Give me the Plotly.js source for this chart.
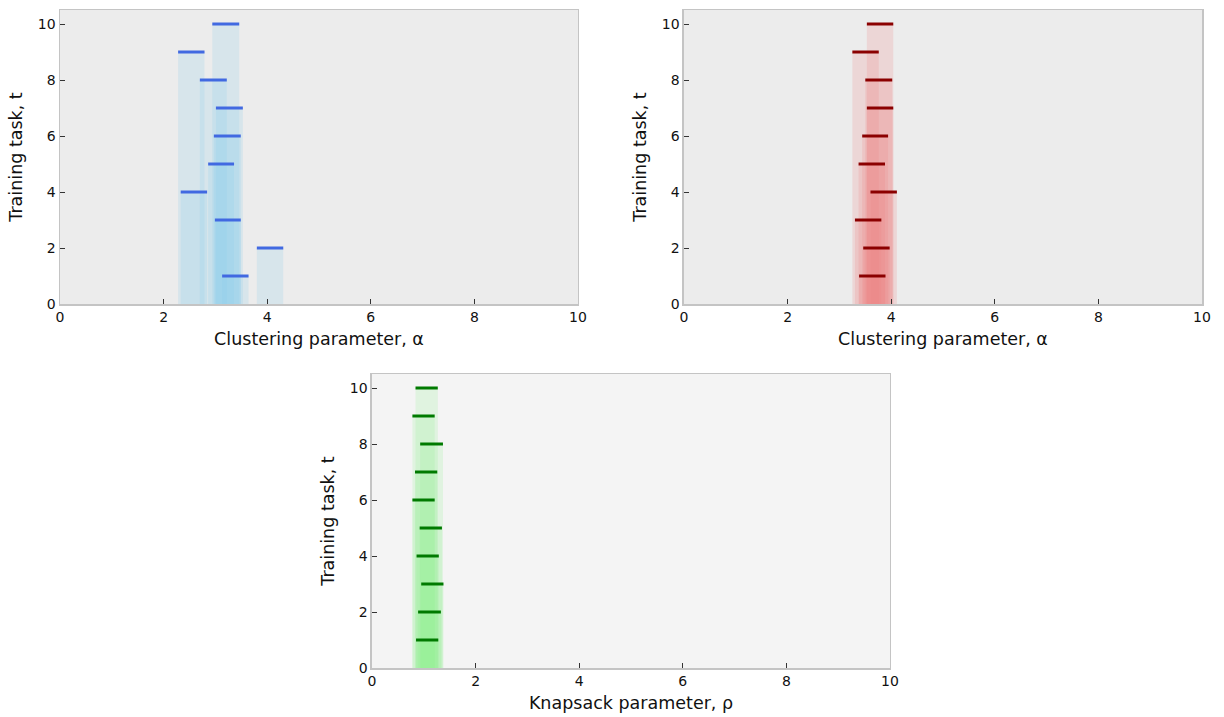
<!DOCTYPE html>
<html><head><meta charset="utf-8">
<script src="https://cdn.plot.ly/plotly-3.0.1.min.js"></script>
<style>body{margin:0;padding:0;background:#fff}#chart{width:1224px;height:717px}</style>
</head><body><div id="chart"></div>
<script>
// Training tasks
var tasks = [1,2,3,4,5,6,7,8,9,10];
// Panel A: clustering parameter alpha intervals per task
var alphaStartA = [3.13,3.80,2.99,2.33,2.86,2.97,3.01,2.70,2.28,2.94];
var alphaEndA   = [3.64,4.31,3.49,2.84,3.36,3.49,3.53,3.22,2.79,3.46];
// Panel B: clustering parameter alpha intervals per task
var alphaStartB = [3.38,3.46,3.30,3.60,3.37,3.44,3.53,3.50,3.25,3.53];
var alphaEndB   = [3.89,3.97,3.81,4.11,3.88,3.94,4.04,4.02,3.76,4.04];
// Panel C: knapsack parameter rho intervals per task
var rhoStart = [0.85,0.89,0.95,0.86,0.92,0.78,0.83,0.93,0.78,0.84];
var rhoEnd   = [1.28,1.33,1.38,1.29,1.35,1.21,1.26,1.37,1.21,1.27];

function panel(starts, ends, fill, line, xa, ya){
  var cx=[], w=[], lx=[], ly=[];
  for (var i=0;i<tasks.length;i++){
    cx.push((starts[i]+ends[i])/2); w.push(ends[i]-starts[i]);
    lx.push(starts[i], ends[i], null); ly.push(tasks[i], tasks[i], null);
  }
  return [
    {type:'bar', x:cx, y:tasks, width:w, base:0, marker:{color:fill, line:{width:0}},
     xaxis:xa, yaxis:ya, hoverinfo:'skip', showlegend:false},
    {type:'scatter', mode:'lines', x:lx, y:ly, line:{color:line, width:3},
     xaxis:xa, yaxis:ya, showlegend:false, connectgaps:false}
  ];
}

var data = [].concat(
  panel(alphaStartA, alphaEndA, 'rgba(135,206,235,0.2)', '#4169e1', 'x', 'y'),
  panel(alphaStartB, alphaEndB, 'rgba(240,128,128,0.2)', '#8b0000', 'x2', 'y2'),
  panel(rhoStart, rhoEnd, 'rgba(144,238,144,0.2)', '#007a00', 'x3', 'y3')
);

var fam = 'DejaVu Sans, sans-serif';
function xax(dom, title, anchor){
  return {domain:dom, anchor:anchor, range:[0,10], tickvals:[0,2,4,6,8,10],
    ticks:'inside', ticklen:5, tickwidth:1, tickcolor:'#333', showgrid:false, zeroline:false,
    showline:true, linecolor:'#c4c4c4', linewidth:1.5, mirror:true,
    tickfont:{family:fam,size:14,color:'#111'},
    title:{text:title, font:{family:fam,size:17.5,color:'#111'}, standoff:8}};
}
function yax(dom, anchor){
  return {domain:dom, anchor:anchor, range:[0,10.5], tickvals:[0,2,4,6,8,10],
    ticks:'inside', ticklen:5, tickwidth:1, tickcolor:'#333', showgrid:false, zeroline:false,
    showline:true, linecolor:'#c4c4c4', linewidth:1.5, mirror:true,
    tickfont:{family:fam,size:14,color:'#111'},
    title:{text:'Training task, t', font:{family:fam,size:17.5,color:'#111'}, standoff:10}};
}

var layout = {
  width:1224, height:717, margin:{l:0,r:0,t:0,b:0},
  paper_bgcolor:'#ffffff', plot_bgcolor:'#ececec',
  barmode:'overlay', font:{family:fam, size:14, color:'#111'}, showlegend:false,
  xaxis: xax([0.04902,0.47222], 'Clustering parameter, α', 'y'),
  yaxis: yax([0.57601,0.98605], 'x'),
  xaxis2: xax([0.55882,0.98203], 'Clustering parameter, α', 'y2'),
  yaxis2: yax([0.57601,0.98605], 'x2'),
  xaxis3: xax([0.30392,0.72712], 'Knapsack parameter, ρ', 'y3'),
  yaxis3: yax([0.06834,0.47838], 'x3'),
  shapes:[
    {type:'rect', xref:'x3 domain', yref:'y3 domain', x0:0, x1:1, y0:0, y1:1,
     fillcolor:'#f4f4f4', line:{width:0}, layer:'below'},
  ]
};
Plotly.newPlot('chart', data, layout, {staticPlot:true, displayModeBar:false});
</script></body></html>
